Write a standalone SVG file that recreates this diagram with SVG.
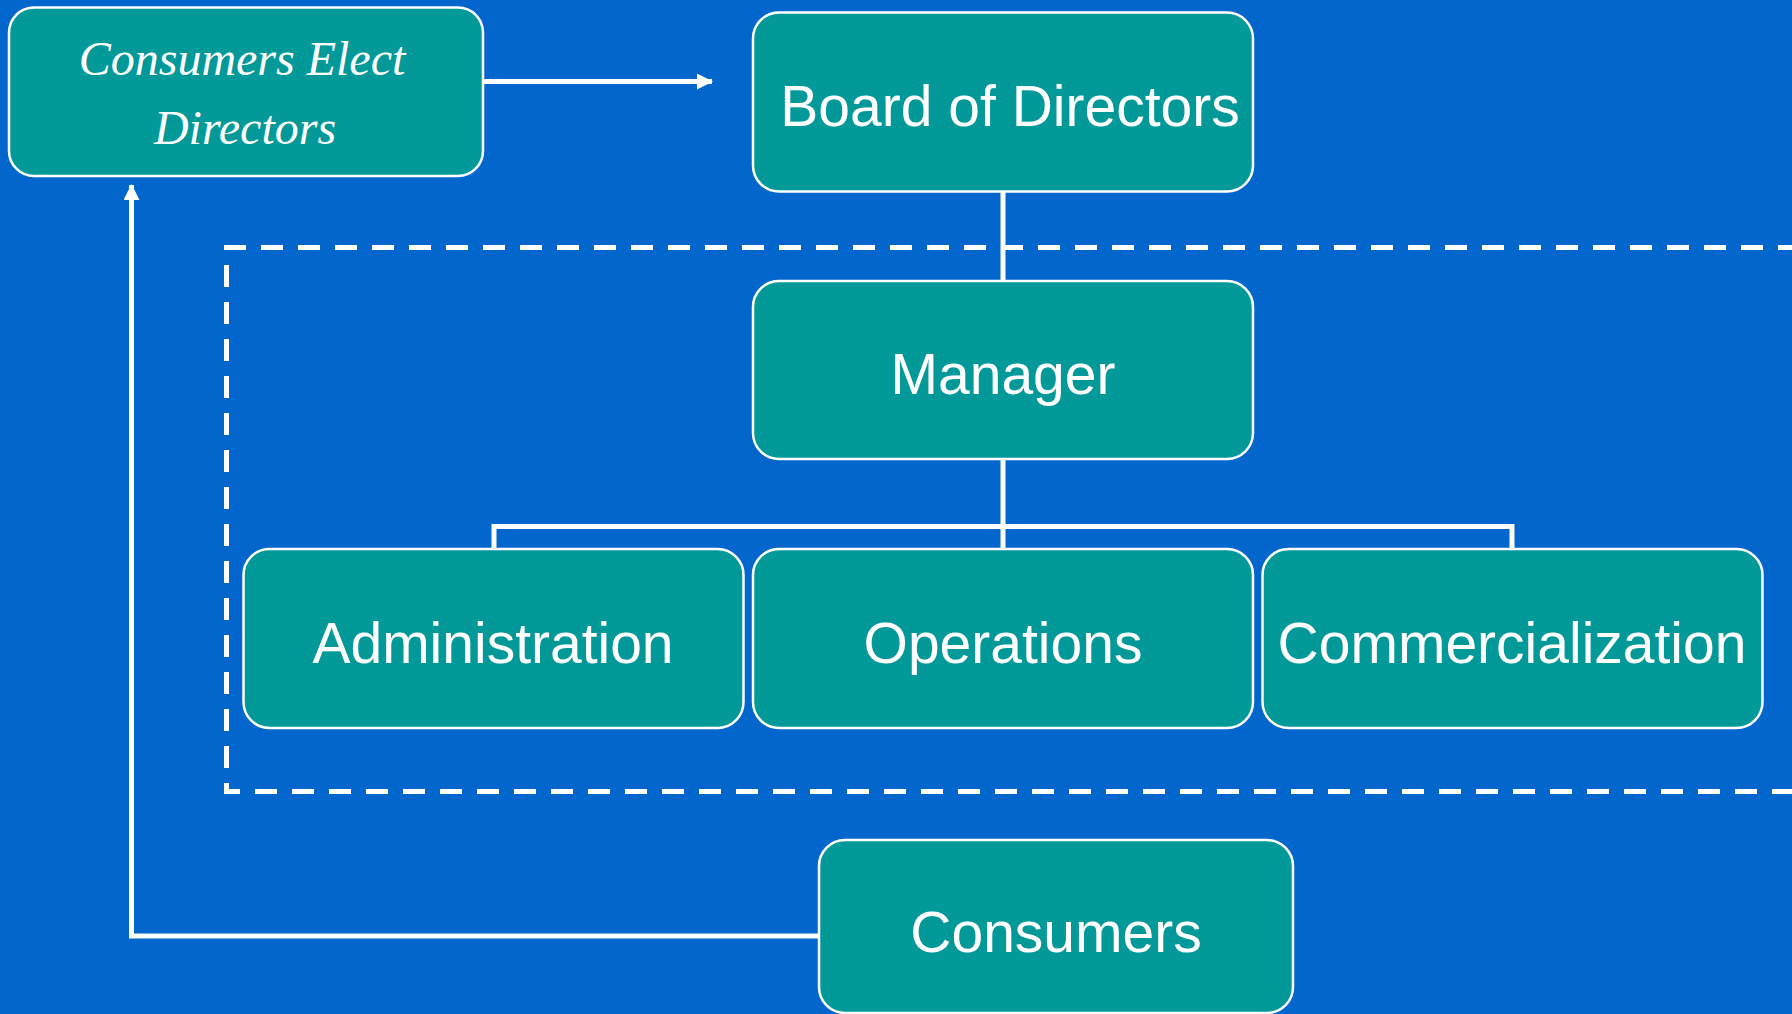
<svg xmlns="http://www.w3.org/2000/svg" width="1792" height="1014" viewBox="0 0 1792 1014">
<defs>
<style>
.box{fill:#039999;stroke:#ffffff;stroke-width:2.5}
.lbl{font-family:"Liberation Sans",Arial,sans-serif;font-size:57px;fill:#ffffff;text-anchor:middle}
.ital{font-family:"Liberation Serif","Times New Roman",serif;font-style:italic;font-size:48px;fill:#ffffff;text-anchor:middle}
.line{fill:none;stroke:#ffffff;stroke-width:5}
.dash{fill:none;stroke:#ffffff;stroke-width:5;stroke-dasharray:22 15}
</style>
<marker id="arr" markerWidth="16" markerHeight="16" viewBox="0 0 16 16" refX="15" refY="8" orient="auto" markerUnits="userSpaceOnUse">
<path d="M0,0 L16,8 L0,16 Z" fill="#ffffff"/>
</marker>
</defs>
<rect x="0" y="0" width="1792" height="1014" fill="#0366CC"/>
<g id="boundary">
<path class="dash" d="M1800,247.5 L226.5,247.5 L226.5,791.5 L1800,791.5"/>
</g>
<g id="connectors">
<line class="line" x1="483" y1="81.5" x2="712" y2="81.5" marker-end="url(#arr)"/>
<line class="line" x1="1003" y1="191" x2="1003" y2="281"/>
<line class="line" x1="1003" y1="459" x2="1003" y2="549"/>
<path class="line" d="M494,549 L494,526.5 L1512,526.5 L1512,549"/>
<path class="line" d="M819,936 L131.5,936 L131.5,185" marker-end="url(#arr)"/>
</g>
<g id="consumers-elect">
<rect class="box" x="9" y="7.5" width="474" height="168.5" rx="25"/>
<text class="ital" x="242" y="75">Consumers Elect</text>
<text class="ital" x="245" y="144">Directors</text>
</g>
<g id="board">
<rect class="box" x="753" y="12.5" width="500" height="179" rx="26"/>
<text class="lbl" x="1010" y="126">Board of Directors</text>
</g>
<g id="manager">
<rect class="box" x="753" y="281" width="500" height="178" rx="26"/>
<text class="lbl" x="1003" y="394">Manager</text>
</g>
<g id="administration">
<rect class="box" x="243.5" y="549" width="500" height="179" rx="26"/>
<text class="lbl" x="493" y="663">Administration</text>
</g>
<g id="operations">
<rect class="box" x="753" y="549" width="500" height="179" rx="26"/>
<text class="lbl" x="1003" y="663">Operations</text>
</g>
<g id="commercialization">
<rect class="box" x="1262.5" y="549" width="500" height="179" rx="26"/>
<text class="lbl" x="1512" y="663">Commercialization</text>
</g>
<g id="consumers">
<rect class="box" x="819" y="840" width="474" height="173" rx="26"/>
<text class="lbl" x="1056" y="952">Consumers</text>
</g>
</svg>
